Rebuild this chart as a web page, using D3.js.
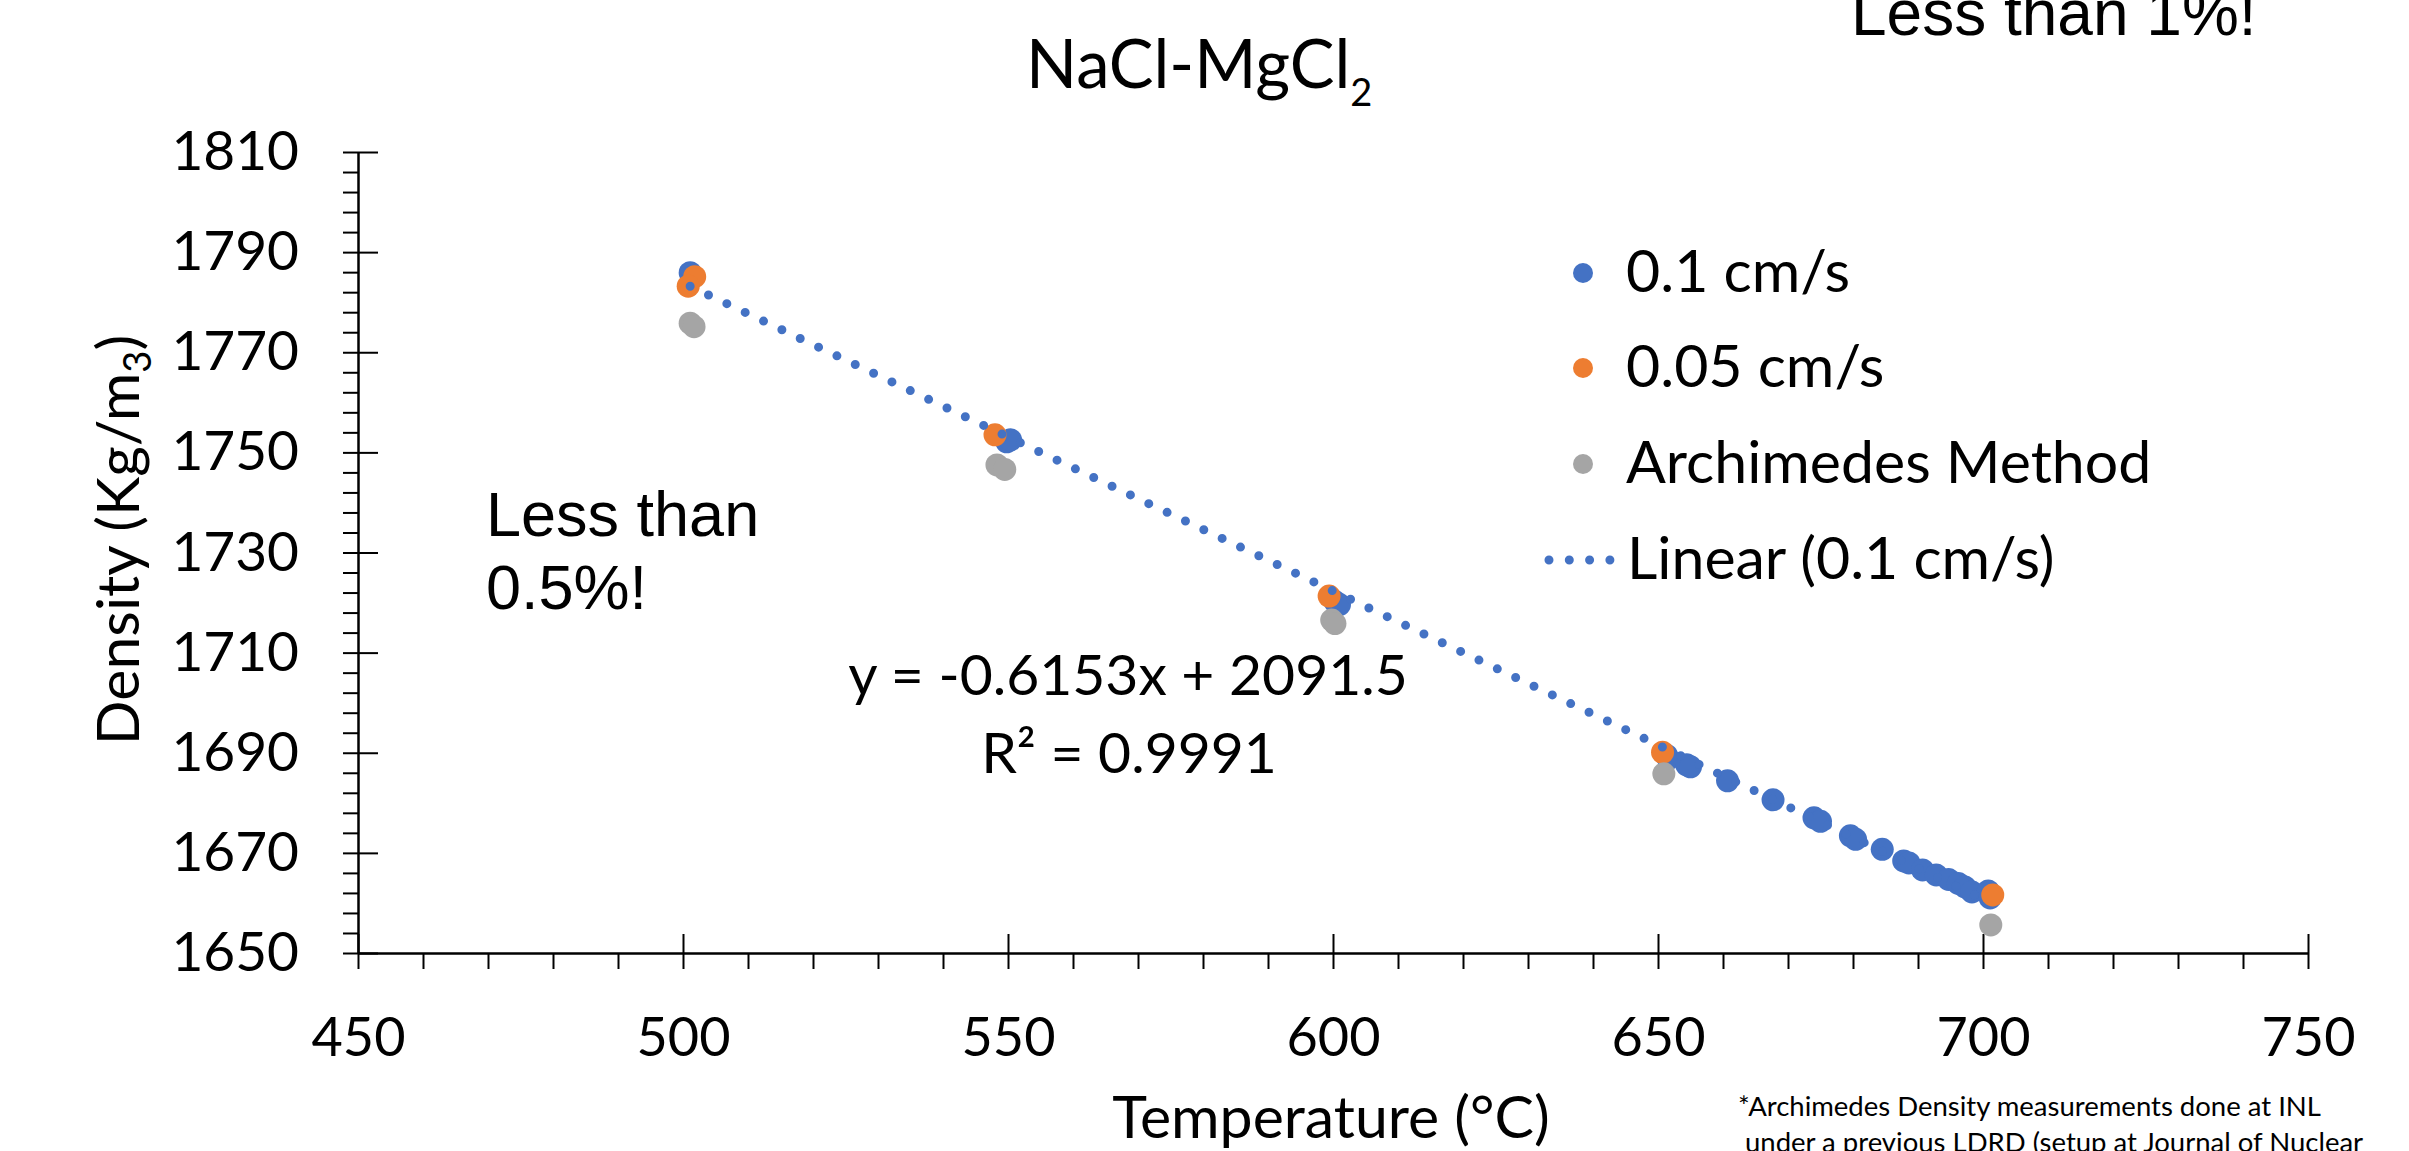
<!DOCTYPE html>
<html>
<head>
<meta charset="utf-8">
<script src="https://d3js.org/d3.v7.min.js"></script>
<style>
  body { margin: 0; background: #fff; }
  svg text { font-family: Lato, "Open Sans", sans-serif; fill: #000; }
  .arial { font-family: "Liberation Sans", Arial, sans-serif; }
  .tick line, .domain { stroke: #000; }
</style>
</head>
<body>
<div id="plot"></div>
<script>
// values
var blueTemp = [501.1, 501.5, 549.8, 550.4, 600.3, 601.0, 651.3, 651.6, 654.4, 655.0, 660.7, 667.7, 674.0, 675.0,
                679.6, 680.4, 684.5, 687.8, 688.6, 690.7, 692.8, 694.7, 696.2, 697.2, 698.3, 700.8, 701.1];
var blueDens = [1785.9, 1785.2, 1752.1, 1752.5, 1720.2, 1719.6, 1689.5, 1688.8, 1687.6, 1687.2, 1684.4, 1680.6, 1677.0, 1676.3,
                1673.4, 1672.7, 1670.7, 1668.4, 1668.0, 1666.6, 1665.6, 1664.7, 1663.9, 1663.2, 1662.2, 1662.4, 1661.0];
var orangeTemp = [501.8, 500.8, 548.0, 599.4, 650.7, 701.5];
var orangeDens = [1785.1, 1783.2, 1753.5, 1721.3, 1690.1, 1661.6];
var grayTemp = [501.1, 501.7, 548.3, 549.5, 599.8, 600.3, 650.9, 701.2];
var grayDens = [1775.8, 1775.1, 1747.5, 1746.6, 1716.5, 1715.8, 1685.8, 1655.6];
var trendSlope = -0.6153, trendIntercept = 2091.5;

var xTicks = [450, 500, 550, 600, 650, 700, 750];
var yTicks = [1650, 1670, 1690, 1710, 1730, 1750, 1770, 1790, 1810];
var seriesNames = ["0.1 cm/s", "0.05 cm/s", "Archimedes Method"];
var seriesColors = ["#4472C4", "#ED7D31", "#A5A5A5"];
var trendName = "Linear (0.1 cm/s)";

// set the dimensions and margins of the graph
var margin = {top: 152, right: 101, bottom: 198, left: 358},
    width = 2409 - margin.left - margin.right,
    height = 1151 - margin.top - margin.bottom;

var root = d3.select("#plot")
  .append("svg")
    .attr("width", width + margin.left + margin.right)
    .attr("height", height + margin.top + margin.bottom);
var svg = root.append("g")
    .attr("transform", "translate(" + margin.left + "," + margin.top + ")");

var x = d3.scaleLinear().domain([450, 750]).range([0, width]);
var y = d3.scaleLinear().domain([1650, 1810]).range([height, 0]);

var xMinor = d3.range(450, 751, 10);
var yMinor = d3.range(1650, 1811, 4);

// X axis: ticks below (every 10), majors also above, labels
svg.append("g")
    .attr("transform", "translate(0," + height + ")")
    .call(d3.axisBottom(x).tickValues(xMinor).tickSize(16).tickSizeOuter(0).tickFormat(""))
    .call(function(g) { g.select(".domain").attr("stroke-width", 2.5); g.selectAll(".tick line").attr("stroke-width", 2); });
svg.append("g")
    .attr("transform", "translate(0," + height + ")")
    .call(d3.axisTop(x).tickValues(xTicks).tickSize(19).tickSizeOuter(0).tickFormat(""))
    .call(function(g) { g.select(".domain").remove(); g.selectAll(".tick line").attr("stroke-width", 2); });
svg.append("g")
    .attr("transform", "translate(0," + height + ")")
    .call(d3.axisBottom(x).tickValues(xTicks).tickSize(0).tickFormat(d3.format("d")))
    .call(function(g) {
      g.select(".domain").remove();
      g.selectAll("text").attr("y", 103).attr("dy", 0)
        .style("font-size", "54px").style("font-family", "Lato");
    });

// Y axis: minor ticks left (every 4), majors also right, labels
svg.append("g")
    .call(d3.axisLeft(y).tickValues(yMinor).tickSize(15).tickSizeOuter(0).tickFormat(""))
    .call(function(g) { g.select(".domain").attr("stroke-width", 2.5); g.selectAll(".tick line").attr("stroke-width", 2); });
svg.append("g")
    .call(d3.axisRight(y).tickValues(yTicks).tickSize(20).tickSizeOuter(0).tickFormat(""))
    .call(function(g) { g.select(".domain").remove(); g.selectAll(".tick line").attr("stroke-width", 2); });
svg.append("g")
    .call(d3.axisLeft(y).tickValues(yTicks).tickSize(0).tickPadding(59).tickFormat(d3.format("d")))
    .call(function(g) {
      g.select(".domain").remove();
      g.selectAll("text").style("font-size", "55px").style("font-family", "Lato");
    });

// dots
function addDots(tx, dy, color) {
  svg.append("g")
    .selectAll("circle")
    .data(d3.zip(tx, dy))
    .enter()
    .append("circle")
      .attr("cx", function(d) { return x(d[0]); })
      .attr("cy", function(d) { return y(d[1]); })
      .attr("r", 11.5)
      .style("fill", color);
}
addDots(blueTemp, blueDens, seriesColors[0]);
addDots(orangeTemp, orangeDens, seriesColors[1]);
addDots(grayTemp, grayDens, seriesColors[2]);

// linear trendline over the 0.1 cm/s range
var tExt = d3.extent(blueTemp);
svg.append("path")
    .datum(tExt)
    .attr("d", d3.line().x(function(d) { return x(d); }).y(function(d) { return y(trendSlope * d + trendIntercept); }))
    .attr("fill", "none")
    .attr("stroke", seriesColors[0])
    .attr("stroke-width", 9)
    .attr("stroke-linecap", "round")
    .attr("stroke-dasharray", "0 20.3");

// title
var title = root.append("text")
    .attr("x", 1026).attr("y", 88)
    .style("font-size", "67px");
title.append("tspan").text("NaCl-MgCl");
title.append("tspan").attr("dy", 18).style("font-size", "38px").text("2");

// Y axis label
var ylab = root.append("text")
    .attr("text-anchor", "middle")
    .attr("transform", "translate(139,540) rotate(-90)")
    .style("font-size", "59px");
ylab.append("tspan").text("Density (Kg/m");
ylab.append("tspan").attr("dy", 12).style("font-size", "38px").text("3");
ylab.append("tspan").attr("dy", -12).text(")");

// X axis label
root.append("text")
    .attr("text-anchor", "middle")
    .attr("x", 1331).attr("y", 1138)
    .style("font-size", "59px")
    .text("Temperature (°C)");

// legend
var legendY = [292, 387, 483];
seriesNames.forEach(function(name, i) {
  root.append("circle").attr("cx", 1583).attr("cy", legendY[i] - 19).attr("r", 10).style("fill", seriesColors[i]);
  root.append("text").attr("x", 1626).attr("y", legendY[i]).style("font-size", "59px").text(name);
});
root.append("line")
    .attr("x1", 1549).attr("x2", 1611).attr("y1", 560).attr("y2", 560)
    .attr("stroke", seriesColors[0]).attr("stroke-width", 9)
    .attr("stroke-linecap", "round").attr("stroke-dasharray", "0 20.3");
root.append("text").attr("x", 1627).attr("y", 579).style("font-size", "59px").text(trendName);

// trendline equation
root.append("text").attr("text-anchor", "middle").attr("x", 1128).attr("y", 695)
    .style("font-size", "57px").text("y = -0.6153x + 2091.5");
root.append("text").attr("text-anchor", "middle").attr("x", 1129).attr("y", 773)
    .style("font-size", "57px").text("R² = 0.9991");

// annotations
root.append("text").attr("class", "arial").attr("x", 486).attr("y", 536)
    .style("font-size", "63px").text("Less than");
root.append("text").attr("class", "arial").attr("x", 486).attr("y", 609)
    .style("font-size", "63px").text("0.5%!");
root.append("text").attr("class", "arial").attr("x", 1851).attr("y", 35)
    .style("font-size", "64px").text("Less than 1%!");

// footnote
root.append("text").attr("x", 1738).attr("y", 1116).style("font-size", "27.5px")
    .text("*Archimedes Density measurements done at INL");
root.append("text").attr("x", 1745).attr("y", 1152).style("font-size", "27.5px")
    .text("under a previous LDRD (setup at Journal of Nuclear");
</script>
</body>
</html>
